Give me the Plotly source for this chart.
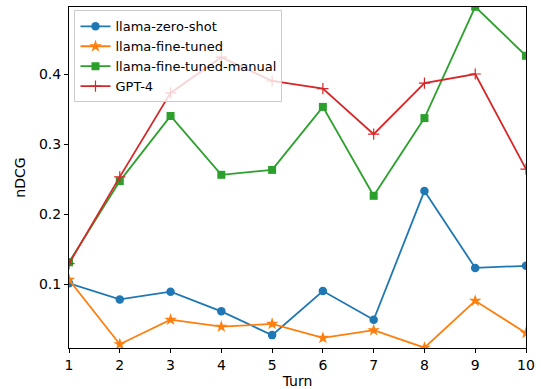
import plotly.graph_objects as go

turns = [1, 2, 3, 4, 5, 6, 7, 8, 9, 10]
zero_shot = [0.101, 0.078, 0.089, 0.061, 0.027, 0.090, 0.049, 0.233, 0.123, 0.126]
fine_tuned = [0.106, 0.014, 0.049, 0.039, 0.043, 0.023, 0.034, 0.009, 0.076, 0.030]
fine_tuned_manual = [0.131, 0.247, 0.340, 0.256, 0.263, 0.353, 0.226, 0.337, 0.496, 0.426]
gpt4 = [0.129, 0.253, 0.373, 0.424, 0.390, 0.379, 0.314, 0.387, 0.400, 0.264]

series = [
    ("llama-zero-shot", zero_shot, "#1f77b4", "circle", 8.5),
    ("llama-fine-tuned", fine_tuned, "#ff7f0e", "star", 9.5),
    ("llama-fine-tuned-manual", fine_tuned_manual, "#2ca02c", "square", 8),
    ("GPT-4", gpt4, "#d62728", "cross-thin", 8),
]

fig = go.Figure()
for name, vals, color, sym, size in series:
    fig.add_trace(go.Scatter(
        x=turns, y=vals, name=name, mode="lines+markers",
        line=dict(color=color, width=1.8),
        marker=dict(symbol=sym, size=size, color=color,
                    line=dict(color=color, width=1.2 if sym == "cross-thin" else 0)),
    ))

font = "DejaVu Sans, sans-serif"
axis_common = dict(
    showgrid=False, zeroline=False, showline=True, linecolor="black", linewidth=1,
    mirror=True, ticks="outside", ticklen=4, tickcolor="black", tickwidth=1,
    tickfont=dict(family=font, size=14, color="black"), automargin=False,
)
fig.update_layout(
    width=541, height=389,
    margin=dict(l=69, r=15, t=7, b=41),
    paper_bgcolor="white", plot_bgcolor="white",
    font=dict(family=font, size=14, color="black"),
    xaxis=dict(range=[1, 10], tickvals=turns, ticklabelstandoff=0,
               title=dict(text="Turn", standoff=5, font=dict(family=font, size=14)), **axis_common),
    yaxis=dict(range=[0.0086, 0.4957], tickvals=[0.1, 0.2, 0.3, 0.4], tickformat=".1f",
               title=dict(text="nDCG", standoff=10, font=dict(family=font, size=14)), **axis_common),
    legend=dict(x=0.012, y=0.99, xanchor="left", yanchor="top",
                bgcolor="rgba(255,255,255,0.8)", bordercolor="#cccccc", borderwidth=1,
                font=dict(family=font, size=13), tracegroupgap=0, itemwidth=30),
    showlegend=True,
)

fig.write_html("out.html", config={"displayModeBar": False},
               post_script="document.body.style.margin='0';document.body.style.padding='0';")
